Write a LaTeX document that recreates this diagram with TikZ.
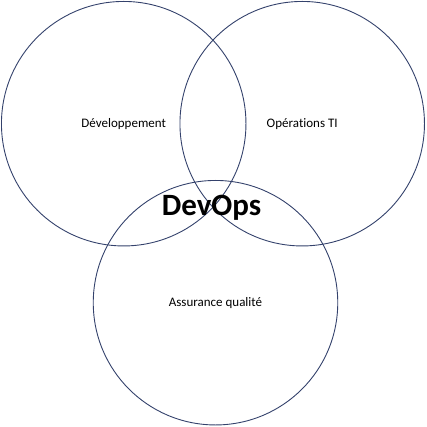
\documentclass[tikz,border=0pt]{standalone}
\usepackage{fontspec}
\setmainfont{Carlito}[Ligatures=NoCommon]
\usepackage{tikz}
\definecolor{ringblue}{RGB}{52,66,108}

\begin{document}
\begin{tikzpicture}[x=1pt,y=-1pt]
    \useasboundingbox (0,0) rectangle (427,427);
    \tikzset{ring/.style = {draw = ringblue, line width = 0.9pt, circle, minimum size = 244.5pt, inner sep = 0pt, font = \fontsize{13}{15}\selectfont}}

    \node[ring](dev) at (123.7,123.7) {D\'eveloppement};
    \node[ring](ops) at (302.2,123.7) {Op\'erations TI};
    \node[ring](qa) at (215.5,302.7) {Assurance qualit\'e};

    \node[font = \fontsize{31}{35}\selectfont\bfseries](devops) at (211.5,208) {DevOps};
\end{tikzpicture}
\end{document}
